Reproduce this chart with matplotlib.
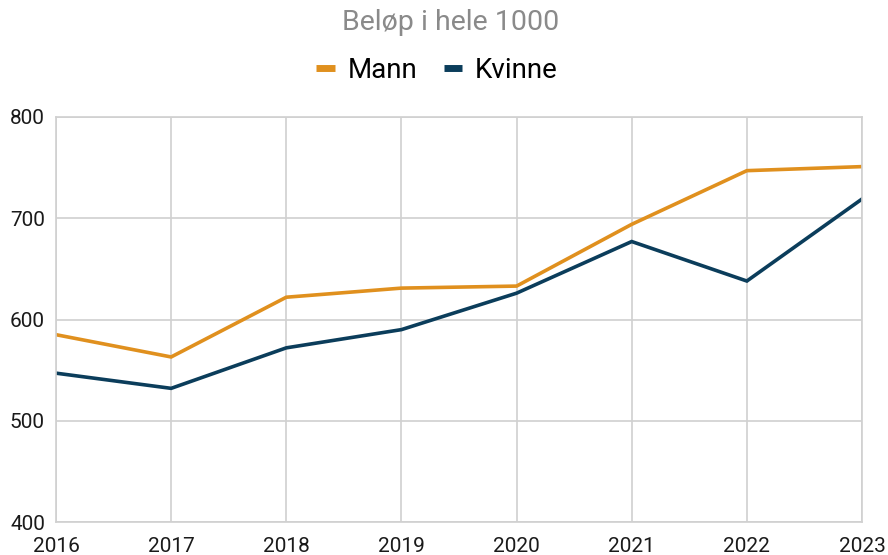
import matplotlib
matplotlib.use("Agg")
import matplotlib.pyplot as plt

years = [2016, 2017, 2018, 2019, 2020, 2021, 2022, 2023]
mann = [585, 563, 622, 631, 633, 694, 747, 751]
kvinne = [547, 532, 572, 590, 626, 677, 638, 719]
yticks = [400, 500, 600, 700, 800]

plt.rcParams['font.family'] = ['Roboto', 'DejaVu Sans']

fig = plt.figure(figsize=(8.88, 5.55), dpi=100)
ax = fig.add_axes([56/888, 1-522/555, (862-56)/888, (522-117)/555])

ax.plot(years, mann, color='#E0901E', lw=2.6, label='Mann', solid_joinstyle='miter')
ax.plot(years, kvinne, color='#0B3D5B', lw=2.6, label='Kvinne', solid_joinstyle='miter')

ax.set_xlim(2016, 2023)
ax.set_ylim(400, 800)
ax.set_xticks(years)
ax.set_yticks(yticks)
ax.grid(True, color='#D0D0D0', lw=1.2)
ax.set_axisbelow(True)
for s in ax.spines.values():
    s.set_color('#D0D0D0')
    s.set_linewidth(1.2)
ax.tick_params(length=0, labelsize=15, colors='#1a1a1a', pad=8)
ax.tick_params(axis='x', pad=10.5)

fig.text(0.507, 1-23/555, 'Beløp i hele 1000', ha='center', va='center', fontsize=20.5, color='#8a8a8a')
leg = fig.legend(loc='center', bbox_to_anchor=(0.492, 1-70/555), ncol=2, frameon=False,
                 fontsize=20, handlelength=0.68, handletextpad=0.45, columnspacing=0.95)
for line in leg.get_lines():
    line.set_linewidth(5)
    line.set_solid_capstyle('butt')

fig.savefig('out.png', dpi=100)
